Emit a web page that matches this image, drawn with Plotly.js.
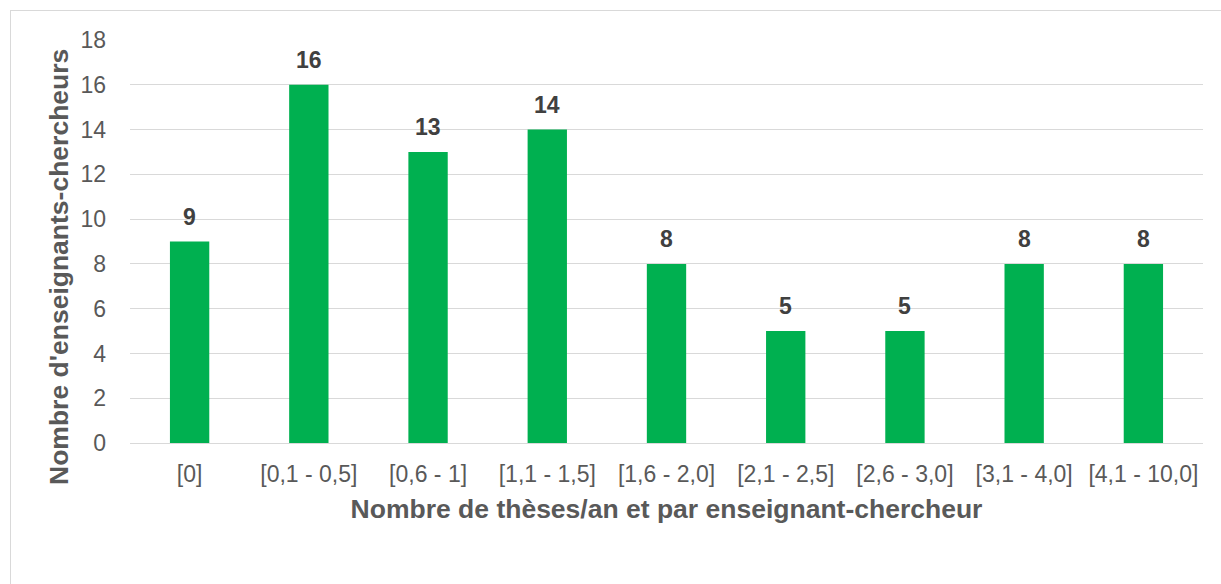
<!DOCTYPE html>
<html><head><meta charset="utf-8">
<script src="https://cdn.plot.ly/plotly-3.0.1.min.js"></script>
<style>
html,body{margin:0;padding:0;background:#fff;}
#frame{position:absolute;left:10px;top:10px;width:1230px;height:600px;border:1px solid #d9d9d9;box-sizing:border-box;}
#chart{position:absolute;left:0;top:0;width:1221px;height:584px;}
</style>
</head><body>
<div id="frame"></div>
<div id="chart"></div>
<script>
const categories = ["[0]", "[0,1 - 0,5]", "[0,6 - 1]", "[1,1 - 1,5]", "[1,6 - 2,0]", "[2,1 - 2,5]", "[2,6 - 3,0]", "[3,1 - 4,0]", "[4,1 - 10,0]"];
const values = [9, 16, 13, 14, 8, 5, 5, 8, 8];
const yTicks = [0, 2, 4, 6, 8, 10, 12, 14, 16, 18];
const xTitle = 'Nombre de thèses/an et par enseignant-chercheur';
const yTitle = "Nombre d'enseignants-chercheurs";

const font = "Liberation Sans, Arial, sans-serif";
const trace = {
  type: 'bar', x: categories, y: values,
  marker: {color: '#00B050', line: {width: 0}},
  width: 0.33, hoverinfo: 'none'
};
const annotations = categories.map((c, i) => ({
  x: c, y: values[i], xref: 'x', yref: 'y', text: '<b>' + values[i] + '</b>',
  showarrow: false, yanchor: 'bottom', yshift: 10,
  font: {family: font, size: 23, color: '#404040'}
}));
annotations.push({
  xref: 'paper', yref: 'paper', x: 0, y: 0, xanchor: 'center', yanchor: 'middle',
  xshift: -71, yshift: 176, textangle: -90, showarrow: false,
  text: '<b>' + yTitle + '</b>',
  font: {family: font, size: 26.5, color: '#595959'}
});
const layout = {
  width: 1221, height: 584,
  margin: {l: 130, r: 18, t: 40, b: 141},
  paper_bgcolor: 'rgba(0,0,0,0)', plot_bgcolor: 'rgba(0,0,0,0)',
  showlegend: false,
  bargap: 0.67,
  xaxis: {
    type: 'category', showgrid: false, showline: true, linecolor: '#d9d9d9', linewidth: 1,
    ticks: '', tickfont: {family: font, size: 23, color: '#595959'},
    ticklabelstandoff: 10,
    title: {text: '<b>' + xTitle + '</b>', font: {family: font, size: 26.5, color: '#595959'}, standoff: 13}
  },
  yaxis: {
    range: [0, 18], tickvals: yTicks, showgrid: true, gridcolor: '#d9d9d9', gridwidth: 1,
    zeroline: false, showline: false, ticks: '',
    tickfont: {family: font, size: 23, color: '#595959'},
    ticklabelstandoff: 23
  },
  annotations: annotations
};
Plotly.newPlot('chart', [trace], layout, {staticPlot: true, displayModeBar: false});
</script>
</body></html>
